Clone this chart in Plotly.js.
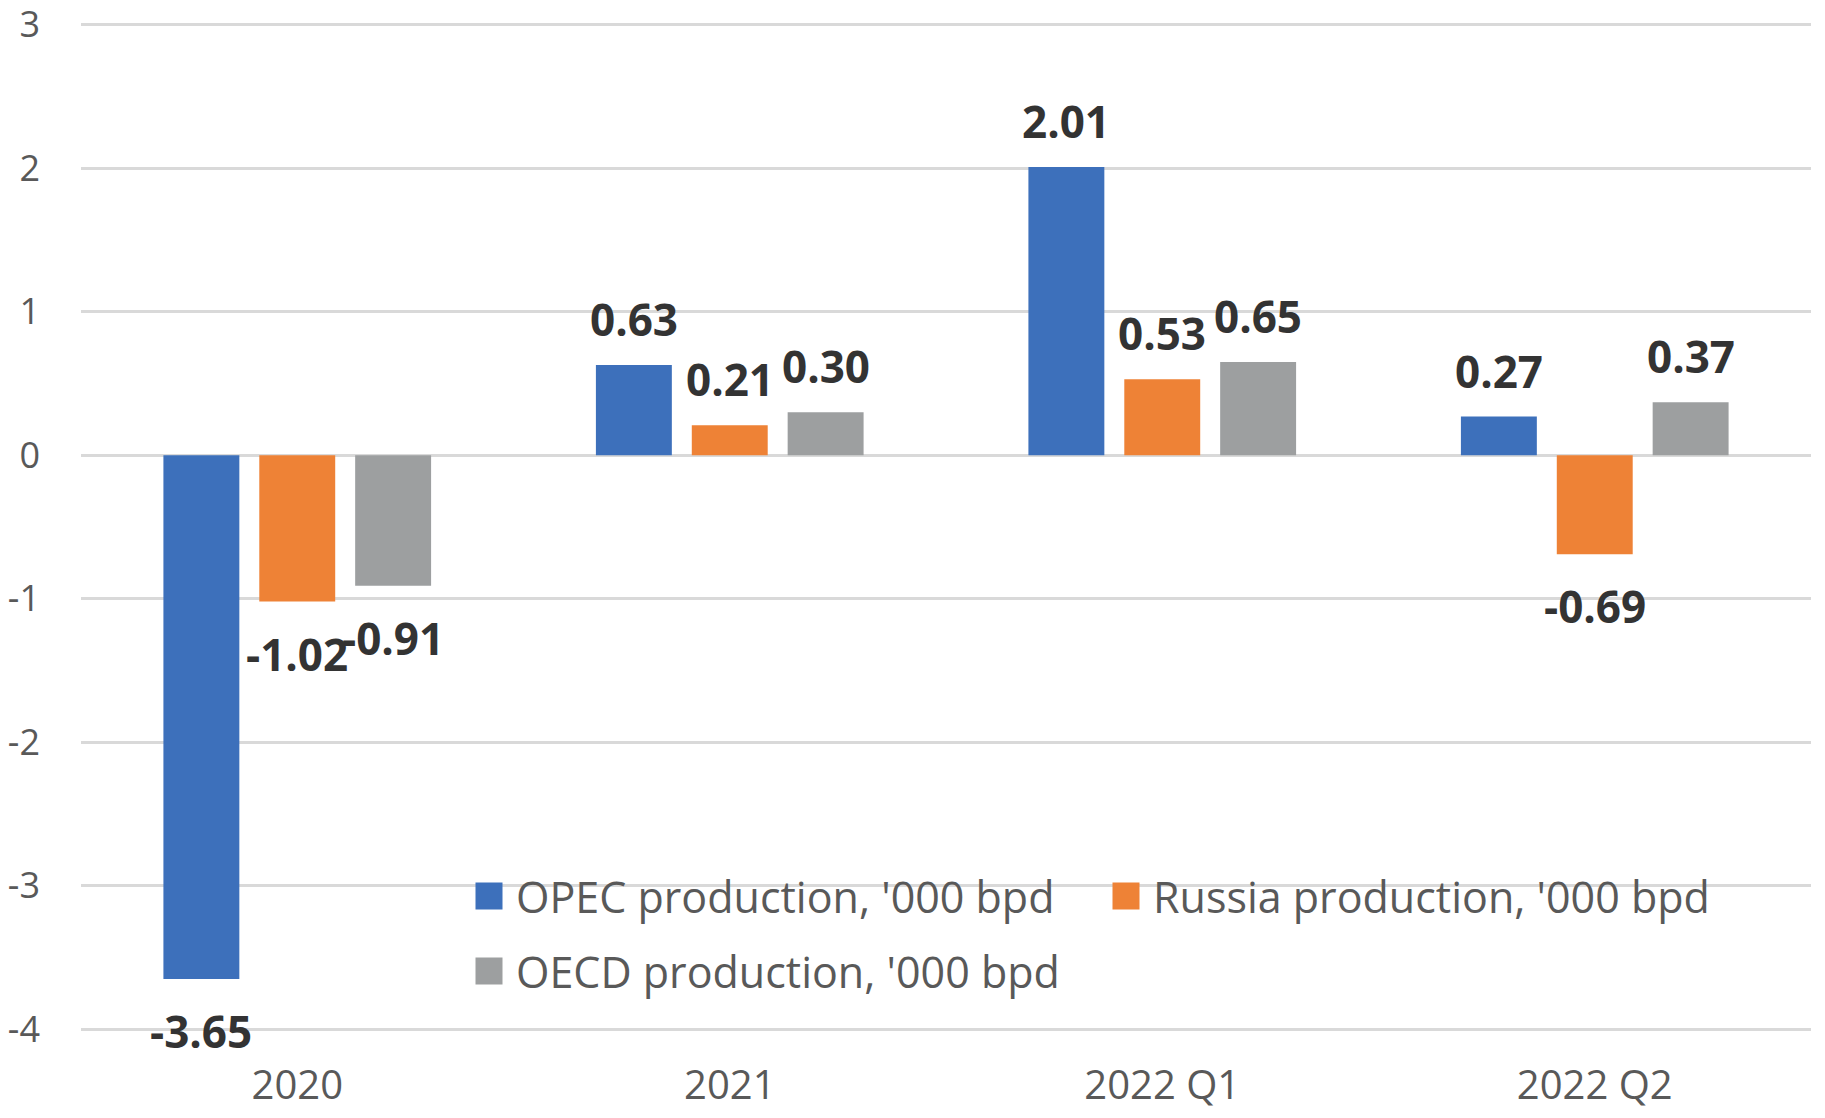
<!DOCTYPE html>
<html><head><meta charset="utf-8">
<script src="https://cdn.plot.ly/plotly-3.0.1.min.js"></script>
<style>html,body{margin:0;padding:0;background:#fff}</style>
</head><body>
<div id="chart" style="width:1825px;height:1118px"></div>
<script>
const categories = ['2020', '2021', '2022 Q1', '2022 Q2'];
const opec = [-3.65, 0.63, 2.01, 0.27];
const russia = [-1.02, 0.21, 0.53, -0.69];
const oecd = [-0.91, 0.30, 0.65, 0.37];
const seriesNames = ["OPEC production, '000 bpd", "Russia production, '000 bpd", "OECD production, '000 bpd"];
const colors = ['#3D70BB', '#EE8236', '#9D9FA0'];
const yTicks = [-4, -3, -2, -1, 0, 1, 2, 3];

const bargap = 0.335, bargroupgap = 0.208;
const series = [opec, russia, oecd];
const legendIds = ['legend', 'legend2', 'legend3'];
const traces = series.map((vals, i) => ({
  type: 'bar', x: categories, y: vals, name: seriesNames[i],
  marker: {color: colors[i]}, legend: legendIds[i]
}));
const slot = (1 - bargap) / series.length;
const annotations = [];
series.forEach((vals, i) => {
  vals.forEach((v, j) => {
    annotations.push({
      xref: 'x', yref: 'y', x: j + (i - 1) * slot, y: v,
      text: v.toFixed(2), showarrow: false,
      yanchor: v >= 0 ? 'bottom' : 'top', yshift: v >= 0 ? 14 : -20,
      font: {family: 'Open Sans', size: 44, color: '#333333', weight: 700}
    });
  });
});
const legFont = {family: 'Open Sans', size: 43, color: '#595959'};
function leg(x, y) {
  return {x: x, y: y, xanchor: 'left', yanchor: 'middle', orientation: 'v',
    bgcolor: 'rgba(0,0,0,0)', borderwidth: 0, font: legFont, itemwidth: 44};
}
// plot area: top 22, bottom 1032 (height 1010)
const plotBottom = 1032, plotH = 1010;
const layout = {
  width: 1825, height: 1118,
  margin: {l: 81, r: 14, t: 22, b: 86, pad: 0},
  paper_bgcolor: '#ffffff', plot_bgcolor: '#ffffff',
  barmode: 'group', bargap: bargap, bargroupgap: bargroupgap,
  showlegend: true,
  legend: leg((462 - 81) / 1730, (plotBottom - 896) / plotH),
  legend2: leg((1099 - 81) / 1730, (plotBottom - 896) / plotH),
  legend3: leg((462 - 81) / 1730, (plotBottom - 971) / plotH),
  xaxis: {type: 'category', showgrid: false, zeroline: false, showline: false, ticks: '',
    tickfont: {family: 'Open Sans', size: 40, color: '#595959'}, ticklabelstandoff: 26},
  yaxis: {range: [-4.02, 3.02], tickvals: yTicks, ticktext: yTicks.map(String), showgrid: true,
    gridcolor: '#D9D9D9', gridwidth: 3, zeroline: true, zerolinecolor: '#D9D9D9', zerolinewidth: 3,
    showline: false, ticks: '', tickfont: {family: 'Open Sans', size: 36, color: '#595959'},
    ticklabelstandoff: 40, ticklabeloverflow: 'allow'},
  annotations: annotations
};
Plotly.newPlot('chart', traces, layout, {staticPlot: true}).then(gd => {
  gd.querySelectorAll('.legendpoints path').forEach(p => {
    const t = p.getAttribute('transform') || '';
    p.setAttribute('transform', t + ' scale(2.25)');
  });
});
</script>
</body></html>
